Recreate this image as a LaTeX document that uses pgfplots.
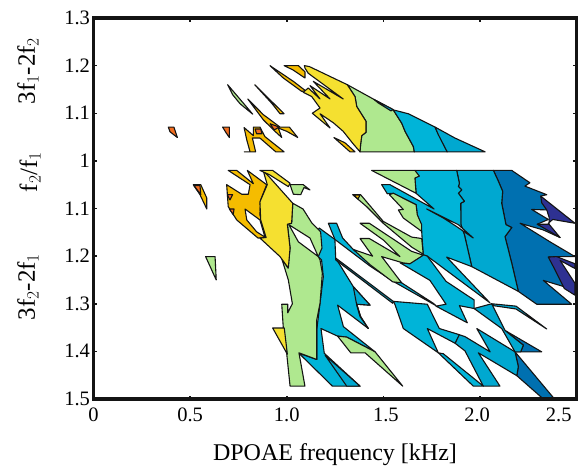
\documentclass[border=0pt]{standalone}
\usepackage{pgfplots}
\pgfplotsset{compat=1.18}
\usepackage{fontspec}
\setmainfont{Liberation Serif}
\definecolor{cOr}{HTML}{F26D1F}
\definecolor{cAm}{HTML}{F5BC00}
\definecolor{cYe}{HTML}{F5E030}
\definecolor{cGr}{HTML}{AFE88F}
\definecolor{cCy}{HTML}{00B4D8}
\definecolor{cMi}{HTML}{00A8D0}
\definecolor{cBl}{HTML}{0070B0}
\definecolor{cIn}{HTML}{2E3192}
\definecolor{ink}{HTML}{141414}
\pgfplotsset{pol/.style={draw=ink,line width=1.1pt,line join=round,fill=#1}}
% x: DPOAE frequency [kHz]; y: signed ratio offset (+ = 3f1-2f2 side, - = 3f2-2f1 side)
\newcommand{\Pg}[2]{\addplot[pol=#1] coordinates {#2} --cycle;}
\begin{document}
\begin{tikzpicture}[x=1pt,y=1pt]
\useasboundingbox (0,0) rectangle (579,467);
\begin{axis}[at={(93.5pt,68pt)},anchor=south west,scale only axis,width=483.2pt,height=381pt,
 xmin=0,xmax=2.5,ymin=-0.5,ymax=0.3,
 axis line style={line width=3.2pt,ink},
 tick style={line width=1.5pt,ink},tick align=inside,major tick length=3.5pt,
 xtick={0,0.5,1,1.5,2,2.5},
 xticklabels={0,0.5,1.0,{\hspace*{5pt}1.5},{2.0\hspace*{6pt}},{2.5\hspace*{36pt}}},
 ytick={-0.5,-0.4,-0.3,-0.2,-0.1,0,0.1,0.2,0.3},
 yticklabels={1.5,1.4,1.3,1.2,1.1,1,1.1,1.2,1.3},
 tick label style={font=\fontsize{20.5}{22}\selectfont},
 xticklabel style={yshift=-5pt},
 /pgf/number format/assume math mode=true,
 axis on top,
]
% top group
\Pg{cOr}{(.387,.071)(.416,.071)(.434,.049)(.396,.061)}
\Pg{cOr}{(.668,.071)(.703,.071)(.703,.049)(.686,.059)}
\Pg{cAm}{(.779,.070)(.827,.053)(.827,.071)(.861,.071)(.887,.051)(.986,.019)(.943,.019)(.861,.048)(.822,.048)(.839,.019)(.780,.019)(.810,.019)(.793,.044)}
\Pg{cOr}{(.836,.067)(.865,.067)(.872,.057)(.844,.057)}
\Pg{cAm}{(.798,.130)(.879,.097)(.965,.071)(1.013,.071)(1.057,.049)(1.000,.062)(.956,.069)(.974,.049)(.939,.062)(.879,.086)}
\Pg{cOr}{(.913,.078)(.961,.071)(.935,.065)}
\Pg{cGr}{(.694,.160)(.824,.098)(.758,.120)(.720,.139)}
\Pg{cAm}{(.834,.160)(.986,.099)(.965,.099)(.922,.121)}
\Pg{cAm}{(.913,.200)(1.034,.167)(1.098,.147)(1.077,.146)(.982,.174)}
\Pg{cAm}{(.986,.200)(1.060,.200)(1.094,.187)(1.094,.174)(1.032,.191)}
\Pg{cGr}{(1.313,.160)(1.456,.128)(1.551,.107)(1.595,.079)(1.612,.062)(1.655,.030)(1.660,.019)(1.379,.019)(1.382,.035)(1.388,.053)(1.410,.060)(1.410,.083)(1.362,.114)(1.353,.135)}
\Pg{cCy}{(1.551,.107)(1.629,.099)(1.767,.071)(1.830,.019)(1.660,.019)(1.655,.030)(1.612,.062)(1.595,.079)}
\Pg{cMi}{(1.767,.071)(1.870,.048)(2.026,.019)(1.830,.019)(1.784,.055)}
\Pg{cCy}{(1.451,.129)(1.550,.108)(1.539,.105)(1.472,.122)}
\Pg{cYe}{(1.091,.200)(1.117,.198)(1.313,.160)(1.353,.135)(1.362,.114)(1.410,.083)(1.410,.060)(1.388,.053)(1.382,.035)(1.379,.019)(1.341,.037)(1.292,.062)(1.241,.080)(1.172,.099)(1.224,.069)(1.132,.100)(1.172,.111)(1.129,.135)(1.085,.144)(1.111,.153)(1.172,.130)(1.120,.158)(1.224,.130)(1.137,.167)(1.292,.130)(1.111,.184)(1.094,.195)}
\Pg{cAm}{(1.244,.049)(1.301,.038)(1.353,.019)(1.327,.019)}
% middle left
\Pg{cAm}{(.516,-.050)(.555,-.050)(.586,-.078)(.586,-.101)(.551,-.071)}
\Pg{cOr}{(.520,-.052)(.551,-.052)(.555,-.071)}
\Pg{cAm}{(.697,-.020)(.741,-.020)(.827,-.048)(.796,-.020)(.896,-.050)(.865,-.082)(.861,-.113)(.893,-.161)(.851,-.162)(.741,-.124)(.697,-.096)(.689,-.050)(.767,-.070)(.801,-.070)(.810,-.050)}
\Pg{cOr}{(.692,-.071)(.720,-.071)(.706,-.082)}
\Pg{cOr}{(.703,-.101)(.727,-.101)(.723,-.113)}
% lower-left cyan
\Pg{cCy}{(1.168,-.141)(1.249,-.165)(1.253,-.204)(1.344,-.264)(1.431,-.303)(1.362,-.301)(1.382,-.327)(1.422,-.352)(1.263,-.303)(1.293,-.348)(1.457,-.401)(1.310,-.370)(1.263,-.368)(1.177,-.352)(1.194,-.404)(1.379,-.473)(1.236,-.473)(1.063,-.404)(1.155,-.417)(1.155,-.355)(1.172,-.299)(1.189,-.243)(1.180,-.208)(1.163,-.201)(1.129,-.169)}
\Pg{cMi}{(1.344,-.264)(1.431,-.303)(1.362,-.301)(1.382,-.327)(1.422,-.352)(1.379,-.327)(1.362,-.303)}
\Pg{cMi}{(1.198,-.408)(1.310,-.473)(1.379,-.473)}
\Pg{cGr}{(1.031,-.089)(1.084,-.101)(1.129,-.130)(1.175,-.149)(1.182,-.183)(1.163,-.201)(1.172,-.208)(1.184,-.236)(1.172,-.299)(1.155,-.334)(1.155,-.417)(1.063,-.403)(1.094,-.473)(1.017,-.473)(1.000,-.406)(.982,-.351)(.974,-.301)(1.005,-.301)(1.005,-.319)(1.029,-.300)(1.008,-.250)(.973,-.204)(1.006,-.225)(1.017,-.183)(1.003,-.133)(1.025,-.131)}
\Pg{cYe}{(.899,-.029)(1.031,-.089)(1.025,-.131)(1.003,-.133)(1.017,-.183)(1.008,-.225)(.965,-.201)(.861,-.162)(.893,-.161)(.865,-.124)(.861,-.086)(.899,-.050)(.879,-.022)}
\Pg{white}{(.784,-.101)(.861,-.124)(.887,-.160)(.844,-.149)(.793,-.124)}
\Pg{white}{(1.011,-.134)(1.120,-.162)(1.163,-.201)(1.060,-.170)}
\Pg{cYe}{(.927,-.351)(.987,-.351)(1.003,-.406)}
\Pg{cYe}{(.861,-.020)(.927,-.020)(1.017,-.047)(1.008,-.054)(.910,-.029)}
\Pg{cGr}{(1.017,-.050)(1.085,-.050)(1.120,-.061)(1.089,-.056)(1.072,-.071)(1.034,-.070)}
\Pg{cGr}{(.580,-.201)(.629,-.201)(.635,-.250)}
% right region
\Pg{cBl}{(2.069,-.020)(2.164,-.020)(2.258,-.046)(2.232,-.053)(2.345,-.071)(2.314,-.074)(2.353,-.103)(2.267,-.102)(2.353,-.123)(2.296,-.133)(2.345,-.142)(2.414,-.161)(2.327,-.145)(2.207,-.131)(2.362,-.170)(2.491,-.201)(2.396,-.201)(2.353,-.202)(2.414,-.222)(2.457,-.254)(2.491,-.271)(2.327,-.251)(2.474,-.301)(2.293,-.301)(2.198,-.274)(2.164,-.215)(2.129,-.159)(2.164,-.140)(2.134,-.134)(2.112,-.089)(2.117,-.064)(2.095,-.043)}
\Pg{cMi}{(1.879,-.020)(2.069,-.020)(2.095,-.043)(2.117,-.064)(2.112,-.089)(2.134,-.134)(2.164,-.140)(2.129,-.159)(2.164,-.215)(2.198,-.274)(1.957,-.222)(1.919,-.155)(1.901,-.134)(1.900,-.089)(1.919,-.085)(1.888,-.068)(1.905,-.061)(1.888,-.054)(1.893,-.047)}
\Pg{cCy}{(1.663,-.020)(1.879,-.020)(1.893,-.047)(1.888,-.054)(1.905,-.061)(1.888,-.068)(1.919,-.085)(1.900,-.089)(1.901,-.134)(1.919,-.155)(1.957,-.222)(1.827,-.202)(1.939,-.250)(2.051,-.298)(1.727,-.200)(1.706,-.198)(1.698,-.148)(1.675,-.113)(1.669,-.092)(1.551,-.068)(1.520,-.069)(1.491,-.050)(1.534,-.050)(1.762,-.101)(1.669,-.068)(1.663,-.036)}
\Pg{cGr}{(1.439,-.020)(1.663,-.020)(1.686,-.032)(1.663,-.036)(1.669,-.068)}
\Pg{cGr}{(1.551,-.068)(1.669,-.092)(1.675,-.113)(1.698,-.134)(1.698,-.148)(1.603,-.120)(1.577,-.103)(1.603,-.102)(1.531,-.071)}
\Pg{white}{(1.724,-.101)(1.888,-.134)(1.965,-.162)(1.879,-.138)(1.810,-.120)}
\Pg{cIn}{(2.314,-.074)(2.491,-.131)(2.376,-.123)(2.353,-.131)(2.414,-.161)(2.296,-.133)(2.357,-.133)(2.357,-.118)(2.345,-.103)(2.319,-.088)}
\Pg{cIn}{(2.353,-.202)(2.396,-.201)(2.491,-.216)(2.491,-.226)(2.414,-.209)(2.491,-.257)(2.491,-.282)(2.436,-.268)(2.379,-.222)}
% strips and lower blades
\Pg{cCy}{(1.215,-.131)(1.258,-.131)(1.289,-.162)(1.344,-.186)(1.431,-.208)(1.548,-.236)(1.594,-.256)(1.758,-.299)(1.772,-.304)(1.551,-.253)(1.431,-.221)(1.249,-.165)}
\Pg{cCy}{(1.253,-.204)(1.551,-.295)(1.548,-.299)(1.253,-.208)}
\Pg{cCy}{(1.586,-.214)(1.634,-.216)(1.707,-.197)(1.727,-.200)(1.824,-.253)(1.969,-.292)(1.969,-.310)(1.893,-.304)(1.934,-.340)(1.772,-.305)(1.824,-.301)(1.741,-.251)}
\Pg{cCy}{(1.551,-.295)(1.560,-.302)(1.603,-.352)(1.784,-.403)(1.727,-.352)(1.871,-.383)(1.893,-.365)(1.789,-.352)(1.727,-.301)}
\Pg{cCy}{(1.784,-.403)(1.965,-.473)(2.017,-.473)(1.810,-.405)}
\Pg{cBl}{(2.181,-.401)(2.379,-.497)(2.319,-.497)(2.190,-.451)(2.198,-.432)}
\Pg{cMi}{(1.871,-.383)(1.893,-.365)(1.922,-.369)(2.052,-.401)(1.983,-.352)(2.181,-.401)(2.198,-.432)(2.190,-.451)(1.991,-.403)(2.103,-.473)(2.017,-.473)(1.922,-.399)}
\Pg{cBl}{(2.129,-.356)(2.319,-.401)(2.181,-.401)(2.210,-.401)(2.224,-.387)}
\Pg{cMi}{(1.969,-.310)(2.060,-.300)(2.129,-.356)(2.224,-.387)(2.210,-.401)(2.181,-.401)(2.112,-.352)}
\Pg{cMi}{(2.060,-.300)(2.186,-.305)(2.345,-.353)(2.186,-.311)(2.069,-.304)}
% green pieces
\Pg{cGr}{(1.341,-.071)(1.382,-.071)(1.499,-.127)(1.646,-.160)(1.698,-.163)(1.706,-.196)(1.646,-.181)(1.499,-.131)(1.413,-.096)}
\Pg{cAm}{(1.348,-.072)(1.379,-.072)(1.368,-.080)}
\Pg{cGr}{(1.344,-.186)(1.444,-.200)(1.379,-.163)(1.427,-.163)(1.586,-.201)(1.499,-.166)(1.379,-.131)(1.427,-.131)(1.646,-.190)(1.706,-.198)(1.637,-.216)(1.600,-.214)(1.491,-.201)(1.594,-.256)(1.548,-.254)(1.431,-.218)}
\Pg{cGr}{(1.263,-.368)(1.310,-.370)(1.457,-.401)(1.600,-.473)(1.405,-.403)(1.331,-.403)}
\end{axis}
\node[font=\fontsize{24}{26}\selectfont,anchor=base] at (335,7) {DPOAE frequency [kHz]};
\node[font=\fontsize{25}{26}\selectfont,rotate=90,anchor=base] at (35,396) {3f$_1$-2f$_2$};
\node[font=\fontsize{25}{26}\selectfont,rotate=90,anchor=base] at (37,295) {f$_2$/f$_1$};
\node[font=\fontsize{25}{26}\selectfont,rotate=90,anchor=base] at (35,180) {3f$_2$-2f$_1$};
\end{tikzpicture}
\end{document}
